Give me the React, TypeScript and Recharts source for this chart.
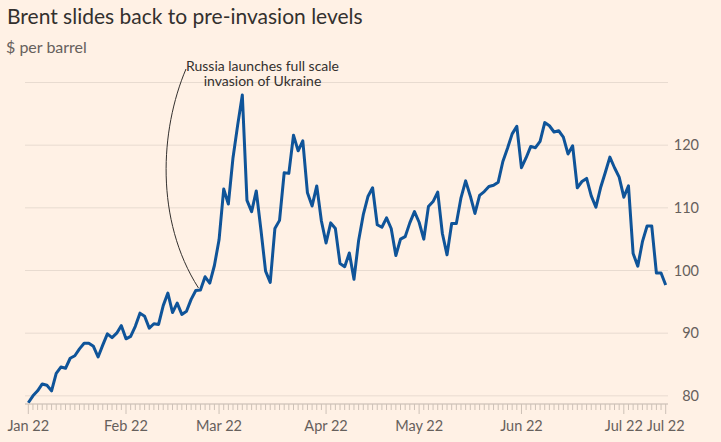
import React from 'react';
import { LineChart, Line, XAxis, YAxis, CartesianGrid } from 'recharts';

// Brent crude, $ per barrel, one value per trading day (3 Jan 2022 – 14 Jul 2022)
const janValues = [78.9, 80.0, 80.8, 81.9, 81.7, 80.8, 83.6, 84.6, 84.4, 86.0, 86.4, 87.5, 88.4, 88.4, 87.9, 86.2, 88.1, 89.9, 89.3, 90.0, 91.2];
const febValues = [89.1, 89.5, 91.1, 93.2, 92.7, 90.8, 91.5, 91.4, 94.4, 96.4, 93.3, 94.8, 93.0, 93.5, 95.4, 96.8, 96.9, 99.0, 98.0, 100.8];
const marValues = [104.9, 113.0, 110.6, 118.0, 123.2, 128.0, 111.2, 109.4, 112.7, 106.5, 99.9, 98.1, 106.7, 108.0, 115.6, 115.5, 121.6, 119.1, 120.7, 112.4, 110.3, 113.5, 107.9];
const aprValues = [104.4, 107.6, 106.7, 101.1, 100.6, 102.8, 98.6, 104.8, 108.9, 111.8, 113.2, 107.3, 106.9, 108.4, 106.7, 102.4, 105.0, 105.4, 107.6, 109.4];
const mayValues = [107.7, 105.0, 110.2, 111.0, 112.5, 105.9, 102.5, 107.5, 107.5, 111.6, 114.3, 111.9, 109.1, 112.0, 112.6, 113.4, 113.6, 114.1, 117.4, 119.5, 121.8, 123.0];
const junValues = [116.4, 118.0, 119.8, 119.6, 120.6, 123.6, 123.1, 122.1, 122.3, 121.3, 118.6, 119.9, 113.2, 114.2, 114.7, 111.9, 110.1, 113.2, 115.6, 118.1, 116.4, 114.9];
const julValues = [111.7, 113.5, 102.7, 100.7, 104.6, 107.1, 107.1, 99.6, 99.6, 97.7];

const brent = [...janValues, ...febValues, ...marValues, ...aprValues, ...mayValues, ...junValues, ...julValues];

// x-axis labels: placed at the first trading day of each month, plus the last day
const labelIndices = [0, 21, 41, 64, 84, 106, 128, 137];
const labelTexts = ['Jan 22', 'Feb 22', 'Mar 22', 'Apr 22', 'May 22', 'Jun 22', 'Jul 22', 'Jul 22'];
const yTicks = [80, 90, 100, 110, 120];

const annotationLines = ['Russia launches full scale', 'invasion of Ukraine'];
const annotationIndex = 37;

const data = brent.map((v, i) => ({ i, v }));
const allTicks = brent.map((_, i) => i);

const W = 721;
const H = 442;
const FONT = "Lato, 'Noto Sans', sans-serif";
const BG = '#fff1e5';
const GRID = '#e8dbd0';
const AXIS = '#cdc1b7';
const LINE = '#0f5499';
const TEXT = '#33302e';
const MUTED = '#66605c';

const PLOT_LEFT = 25;
const PLOT_RIGHT = 668;
const PLOT_TOP = 82.5;
const PLOT_BOTTOM = 404;
const Y_MIN = 78.7;
const Y_MAX = 130;
const PAD_L = 3.3;
const PAD_R = 2.3;

const xOf = (i: number) =>
  PLOT_LEFT + PAD_L + (i / (brent.length - 1)) * (PLOT_RIGHT - PLOT_LEFT - PAD_L - PAD_R);
const yOf = (v: number) => PLOT_BOTTOM - ((v - Y_MIN) / (Y_MAX - Y_MIN)) * (PLOT_BOTTOM - PLOT_TOP);

const XTick = (props: any) => {
  const { x, y, payload } = props;
  const k = labelIndices.indexOf(payload.value);
  const isLabel = k >= 0;
  return (
    <g>
      <line x1={x} x2={x} y1={y} y2={y + (isLabel ? 10 : 6)} stroke={AXIS} strokeWidth={1} />
      {isLabel && (
        <text x={x} y={y + 22} dy="0.35em" textAnchor="middle" fill={MUTED} fontSize={14.5} fontFamily={FONT}>
          {labelTexts[k]}
        </text>
      )}
    </g>
  );
};

const YTick = (props: any) => {
  const { x, y, payload } = props;
  return (
    <text x={x + 31} y={y} dy="0.35em" textAnchor="end" fill={MUTED} fontSize={14.5} fontFamily={FONT}>
      {payload.value}
    </text>
  );
};

export default function App() {
  const ex = xOf(annotationIndex) - 2;
  const ey = yOf(brent[annotationIndex]) - 2;
  return (
    <div style={{ position: 'absolute', left: 0, top: 0, width: W, height: H, background: BG, overflow: 'hidden' }}>
      <LineChart
        width={W}
        height={H}
        data={data}
        margin={{ top: PLOT_TOP, right: W - PLOT_RIGHT - 40, bottom: H - PLOT_BOTTOM - 30, left: PLOT_LEFT }}
      >
        <CartesianGrid vertical={false} stroke={GRID} strokeWidth={1} />
        <XAxis
          dataKey="i"
          type="number"
          domain={[0, brent.length - 1]}
          ticks={allTicks}
          interval={0}
          padding={{ left: PAD_L, right: PAD_R }}
          tick={<XTick />}
          tickLine={false}
          tickSize={0}
          tickMargin={0}
          axisLine={{ stroke: AXIS, strokeWidth: 1 }}
          height={30}
        />
        <YAxis
          orientation="right"
          type="number"
          domain={[Y_MIN, Y_MAX]}
          ticks={yTicks}
          allowDataOverflow
          tick={<YTick />}
          tickLine={false}
          axisLine={false}
          tickSize={0}
          tickMargin={0}
          width={40}
        />
        <Line
          type="linear"
          dataKey="v"
          stroke={LINE}
          strokeWidth={3}
          dot={false}
          activeDot={false}
          isAnimationActive={false}
          strokeLinejoin="round"
        />
      </LineChart>
      <svg width={W} height={H} style={{ position: 'absolute', left: 0, top: 0, pointerEvents: 'none' }}>
        <text x={7} y={17} dy="0.35em" fill={TEXT} fontSize={21} fontFamily={FONT}>
          Brent slides back to pre-invasion levels
        </text>
        <text x={6} y={47} dy="0.35em" fill={MUTED} fontSize={16} fontFamily={FONT}>
          $ per barrel
        </text>
        {annotationLines.map((t, k) => (
          <text key={k} x={262.5} y={66 + k * 15.5} dy="0.35em" textAnchor="middle" fill={TEXT} fontSize={14} fontFamily={FONT}>
            {t}
          </text>
        ))}
        <path
          d={`M186,69 C160,130 155,220 ${ex},${ey}`}
          fill="none"
          stroke={TEXT}
          strokeWidth={1}
        />
      </svg>
    </div>
  );
}
